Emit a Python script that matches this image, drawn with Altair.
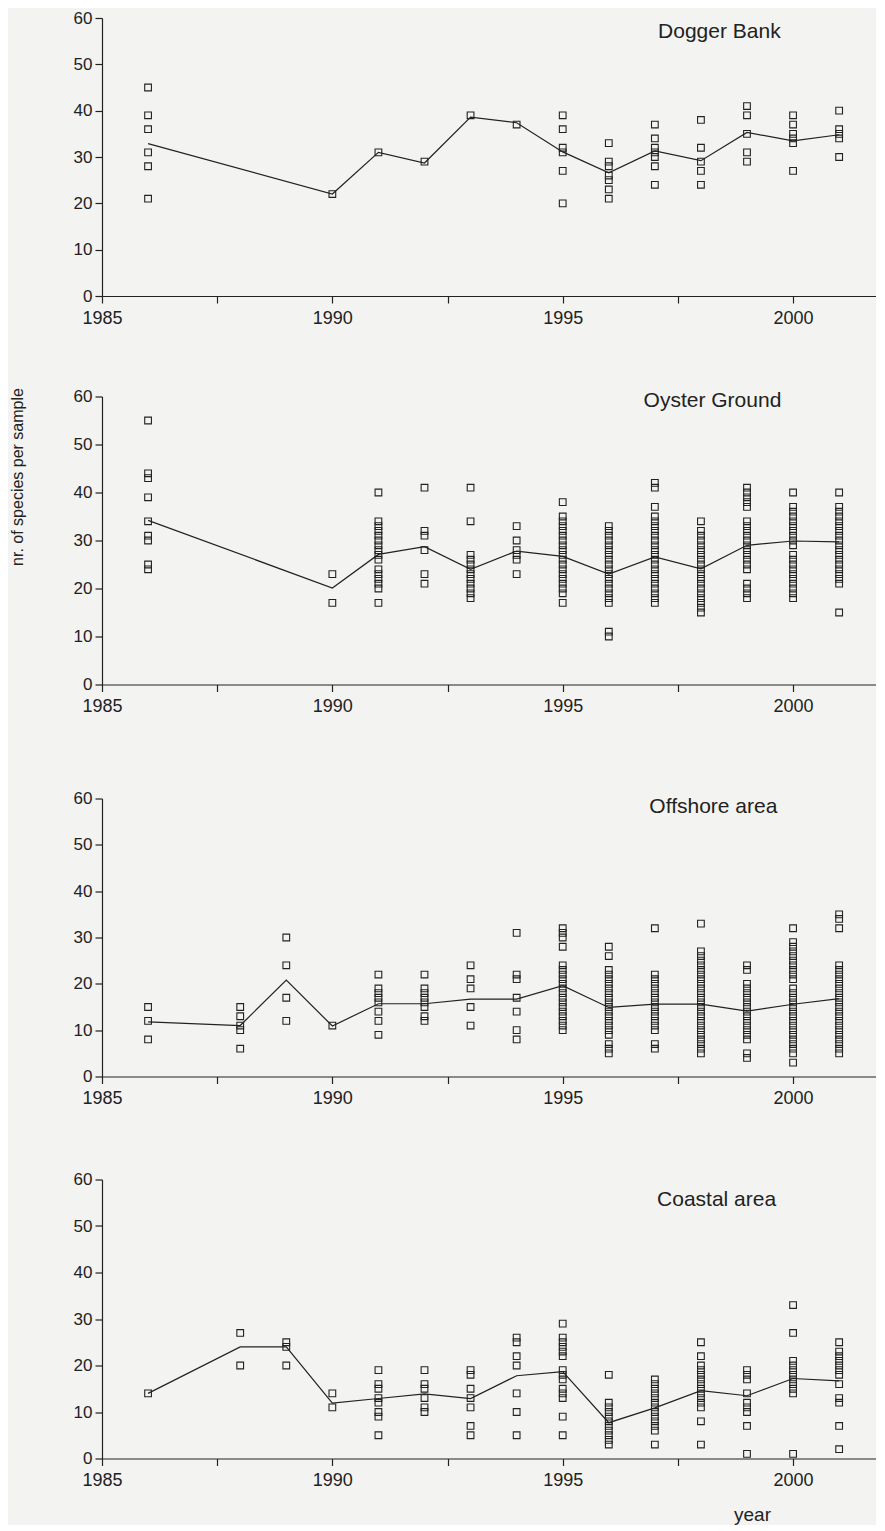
import altair as alt
import pandas as pd

INK = "#222222"
PAPER = "#f3f3f1"
FONT = "Liberation Sans"

X_TICKS = [1985, 1987.5, 1990, 1992.5, 1995, 1997.5, 2000]
Y_TICKS = [0, 5, 10, 15, 20, 25, 30, 35, 40, 45, 50, 55, 60]

# ---------------- Dogger Bank ----------------
DB_YEARS = [1986, 1990, 1991, 1992, 1993, 1994, 1995, 1996, 1997, 1998, 1999, 2000, 2001]
DB_SAMPLES = [
    [45, 39, 36, 31, 28, 21],
    [22],
    [31],
    [29],
    [39],
    [37],
    [39, 36, 32, 31, 27, 20],
    [33, 29, 28, 26, 25, 23, 21],
    [37, 34, 32, 31, 30, 28, 24],
    [38, 32, 29, 27, 24],
    [41, 39, 35, 31, 29],
    [39, 37, 35, 34, 33, 27],
    [40, 36, 35, 34, 30],
]
DB_MEAN = [32.9, 22.0, 31.0, 28.7, 38.6, 37.4, 31.1, 26.6, 31.3, 29.2, 35.3, 33.5, 34.8]

# ---------------- Oyster Ground ----------------
OG_YEARS = [1986, 1990, 1991, 1992, 1993, 1994, 1995, 1996, 1997, 1998, 1999, 2000, 2001]
OG_SAMPLES = [
    [55, 44, 43, 39, 34, 31, 30, 25, 24],
    [23, 17],
    [40, 34, 33, 32, 31, 30, 29, 28, 27, 26, 24, 23, 22, 21, 20, 17],
    [41, 32, 31, 28, 23, 21],
    [41, 34, 27, 26, 25, 24, 23, 22, 21, 20, 19, 18],
    [33, 30, 28, 27, 26, 23],
    [38, 35, 34, 33, 32, 31, 30, 29, 28, 27, 26, 25, 24, 23, 22, 21, 20, 19, 17],
    [33, 32, 31, 30, 29, 28, 27, 26, 25, 24, 23, 22, 21, 20, 19, 18, 17, 11, 10],
    [42, 41, 37, 35, 34, 33, 32, 31, 30, 29, 28, 27, 26, 25, 24, 23, 22, 21, 20, 19, 18, 17],
    [34, 32, 31, 30, 29, 28, 27, 26, 25, 24, 23, 22, 21, 20, 19, 18, 17, 16, 15],
    [41, 40, 39, 38, 37, 34, 33, 32, 31, 30, 29, 28, 27, 26, 25, 24, 21, 20, 19, 18],
    [40, 37, 36, 35, 34, 33, 32, 31, 30, 29, 27, 26, 25, 24, 23, 22, 21, 20, 19, 18],
    [40, 37, 36, 35, 34, 33, 32, 31, 30, 29, 28, 27, 26, 25, 24, 23, 22, 21, 15],
]
OG_MEAN = [34.2, 20.1, 27.1, 28.7, 24.0, 27.8, 26.7, 23.0, 26.6, 24.1, 29.0, 29.9, 29.7]

# ---------------- Offshore area ----------------
OF_YEARS = [1986, 1988, 1989, 1990, 1991, 1992, 1993, 1994, 1995, 1996, 1997, 1998, 1999, 2000, 2001]
OF_SAMPLES = [
    [15, 12, 8],
    [15, 13, 11, 10, 6],
    [30, 24, 17, 12],
    [11],
    [22, 19, 18, 17, 16, 14, 12, 9],
    [22, 19, 18, 17, 16, 15, 13, 12],
    [24, 21, 19, 15, 11],
    [31, 22, 21, 17, 14, 10, 8],
    [32, 31, 30, 28, 24, 23, 22, 21, 20, 19, 18, 17, 16, 15, 14, 13, 12, 11, 10],
    [28, 26, 23, 22, 21, 20, 19, 18, 17, 16, 15, 14, 13, 12, 11, 10, 9, 7, 6, 5],
    [32, 22, 21, 20, 19, 18, 17, 16, 15, 14, 13, 12, 11, 10, 7, 6],
    [33, 27, 26, 25, 24, 23, 22, 21, 20, 19, 18, 17, 16, 15, 14, 13, 12, 11, 10, 9, 8, 7, 6, 5],
    [24, 23, 20, 19, 18, 17, 16, 15, 14, 13, 12, 11, 10, 9, 8, 5, 4],
    [32, 29, 28, 27, 26, 25, 24, 23, 22, 21, 19, 18, 17, 16, 15, 14, 13, 12, 11, 10, 9, 8, 7, 6, 5, 3],
    [35, 34, 32, 24, 23, 22, 21, 20, 19, 18, 17, 16, 15, 14, 13, 12, 11, 10, 9, 8, 7, 6, 5],
]
OF_MEAN = [11.8, 11.0, 20.8, 10.9, 15.7, 15.7, 16.7, 16.7, 19.6, 14.9, 15.6, 15.6, 14.1, 15.6, 16.8]

# ---------------- Coastal area ----------------
CO_YEARS = [1986, 1988, 1989, 1990, 1991, 1992, 1993, 1994, 1995, 1996, 1997, 1998, 1999, 2000, 2001]
CO_SAMPLES = [
    [14],
    [27, 20],
    [25, 24, 20],
    [14, 11],
    [19, 16, 15, 13, 12, 10, 9, 5],
    [19, 16, 15, 13, 11, 10],
    [19, 18, 15, 13, 11, 7, 5],
    [26, 25, 22, 20, 14, 10, 5],
    [29, 26, 25, 24, 23, 22, 19, 18, 17, 15, 14, 13, 9, 5],
    [18, 12, 11, 10, 9, 8, 7, 6, 5, 4, 3],
    [17, 16, 15, 14, 13, 12, 11, 10, 9, 8, 7, 6, 3],
    [25, 22, 20, 19, 18, 17, 16, 15, 14, 13, 12, 11, 8, 3],
    [19, 18, 17, 14, 12, 11, 10, 7, 1],
    [33, 27, 21, 20, 19, 18, 17, 16, 15, 14, 1],
    [25, 23, 22, 21, 20, 19, 18, 16, 13, 12, 7, 2],
]
CO_MEAN = [14.0, 24.0, 24.0, 11.9, 12.9, 13.9, 12.9, 17.8, 18.7, 7.7, 10.9, 14.6, 13.5, 17.2, 16.7]

PANEL_NAMES = ["Dogger Bank", "Oyster Ground", "Offshore area", "Coastal area"]
NAME_X = [1998.4, 1998.25, 1998.27, 1998.34]
NAME_Y = [57.0, 59.0, 58.2, 55.5]
PANEL_H = [278, 288, 278, 279]

W = 774


def panel(i, years, samples, means, ytitle_visible, xtitle):
    pts = pd.DataFrame(
        [{"year": y, "value": v} for y, vals in zip(years, samples) for v in vals]
    )
    mean_df = pd.DataFrame({"year": years, "value": means})
    lab_df = pd.DataFrame({"name": [PANEL_NAMES[i]]})

    xaxis_kw = dict(
        values=X_TICKS,
        labelExpr="datum.value % 5 == 0 ? datum.label : ''",
        format="d",
        tickSize=7,
        labelPadding=6,
        labelFontSize=18,
        labelFlush=False,
        labelOverlap=False,
        grid=False,
        domainColor=INK,
        tickColor=INK,
        labelColor=INK,
        domainWidth=1.2,
        tickWidth=1.2,
    )
    if xtitle:
        xaxis_kw.update(
            title="year",
            titleX=650,
            titleY=62,
            titleAlign="center",
            titleBaseline="alphabetic",
            titleFontSize=19,
            titleFontWeight="normal",
            titleColor=INK,
        )
    else:
        xaxis_kw.update(title=None)

    yaxis = alt.Axis(
        values=Y_TICKS,
        labelExpr="datum.value % 10 == 0 ? datum.label : ''",
        tickSize=7,
        labelPadding=3,
        labelFontSize=17,
        grid=False,
        domainColor=INK,
        tickColor=INK,
        labelColor=INK,
        domainWidth=1.2,
        tickWidth=1.2,
        title="nr. of species per sample",
        titleX=-80,
        titleY=80,
        titleAngle=-90,
        titleAlign="center",
        titleBaseline="alphabetic",
        titleFontSize=16,
        titleFontWeight="normal",
        titleColor=INK,
        titleOpacity=1 if ytitle_visible else 0,
    )

    x_enc = alt.X("year:Q", scale=alt.Scale(domain=[1985, 2001.8], nice=False, zero=False),
                  axis=alt.Axis(**xaxis_kw))
    y_enc = alt.Y("value:Q", scale=alt.Scale(domain=[0, 60], nice=False), axis=yaxis)

    points = alt.Chart(pts).mark_point(
        shape="square", filled=False, size=45, strokeWidth=1.1, color=INK, opacity=1
    ).encode(x=x_enc, y=y_enc)

    line = alt.Chart(mean_df).mark_line(color=INK, strokeWidth=1.2).encode(x=x_enc, y=y_enc)

    label = alt.Chart(lab_df).mark_text(
        fontSize=21, color=INK, align="center", baseline="middle", font=FONT
    ).encode(x=alt.datum(NAME_X[i]), y=alt.datum(NAME_Y[i]), text="name:N")

    return alt.layer(line, points, label).properties(width=W, height=PANEL_H[i])


p1 = panel(0, DB_YEARS, DB_SAMPLES, DB_MEAN, False, False)
p2 = panel(1, OG_YEARS, OG_SAMPLES, OG_MEAN, True, False)
p3 = panel(2, OF_YEARS, OF_SAMPLES, OF_MEAN, False, False)
p4 = panel(3, CO_YEARS, CO_SAMPLES, CO_MEAN, False, True)

top = alt.vconcat(p1, p2, spacing=60.5)
bottom = alt.vconcat(p3, p4, spacing=63)

chart = (
    alt.vconcat(top, bottom, spacing=73.5)
    .properties(padding={"top": 1, "left": 0, "right": 0, "bottom": 0}, background=PAPER)
    .configure(font=FONT)
    .configure_view(strokeWidth=0)
)

chart.save("out.html", embed_options={"renderer": "svg", "actions": False})
